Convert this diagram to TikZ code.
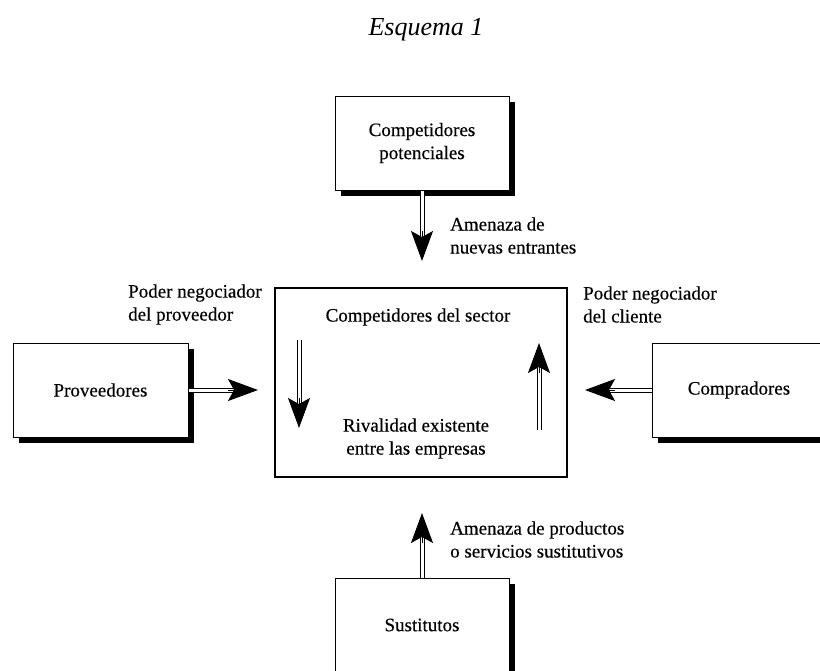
\documentclass[tikz,border=0pt]{standalone}
\usepackage{fontspec}
\setmainfont{Liberation Serif}
\newfontfamily\dfont{Liberation Serif}[FakeBold=0.35]
\usetikzlibrary{arrows.meta,shadows}
\begin{document}
\begin{tikzpicture}[x=1pt,y=-1pt,
 box/.style={draw, fill=white, line width=1pt, inner sep=0pt, font=\dfont\fontsize{19}{23}\selectfont, align=center},
 shbox/.style={box, drop shadow={shadow xshift=6pt, shadow yshift=-6pt, opacity=1, fill=black}},
 dbl/.style={draw, double, double distance=3pt, line width=1pt},
 head/.style={-{Stealth[length=30pt,width=22pt,inset=6pt]}, line width=1pt},
 lbl/.style={font=\dfont\fontsize{19}{23}\selectfont, align=left, anchor=west, inner sep=0pt},
 txt/.style={font=\dfont\fontsize{19}{23}\selectfont, align=center, inner sep=0pt},
]
\useasboundingbox (0,0) rectangle (820,670);
\clip (0,0) rectangle (820,670);
\fill[white] (0,0) rectangle (820,670);

\node[font=\fontsize{26}{30}\selectfont\itshape, inner sep=0pt] (title) at (426,30) {Esquema 1};

% boxes
\node[shbox, minimum width=174pt, minimum height=94pt] (top) at (422,143) {Competidores\\potenciales};
\node[box, line width=1.3pt, minimum width=292pt, minimum height=189pt] (mid) at (421,382.5) {};
\node[shbox, minimum width=175pt, minimum height=94pt] (prov) at (100.5,390) {Proveedores};
\node[shbox, minimum width=174pt, minimum height=94pt] (comp) at (739,390) {Compradores};
\node[shbox, minimum width=174pt, minimum height=94pt] (sust) at (422,625) {Sustitutos};

% texts in the centre box
\node[txt] (sector) at (418,317) {Competidores del sector};
\node[txt] (rival) at (416,438.5) {Rivalidad existente\\entre las empresas};

% labels
\node[lbl] (l1) at (450,235.5) {Amenaza de\\nuevas entrantes};
\node[lbl] (l2) at (128,304.5) {Poder negociador\\del proveedor};
\node[lbl] (l3) at (583,304.5) {Poder negociador\\del cliente};
\node[lbl] (l4) at (450,539.5) {Amenaza de productos\\o servicios sustitutivos};

% top arrow
\coordinate (tTip) at (422,261);
\coordinate (tBase) at (422,231);
\draw[dbl] (top.south) -- ([yshift=-5pt]tBase);
\draw[head] (tBase) -- (tTip);

% left arrow
\coordinate (pTip) at (258,390);
\coordinate (pBase) at (228,390);
\draw[dbl] (prov.east) -- ([xshift=5pt]pBase);
\draw[head] (pBase) -- (pTip);

% right arrow
\coordinate (cTip) at (585,390);
\coordinate (cBase) at (615,390);
\draw[dbl] (comp.west) -- ([xshift=-5pt]cBase);
\draw[head] (cBase) -- (cTip);

% bottom arrow
\coordinate (sTip) at (422,513);
\coordinate (sBase) at (422,543);
\draw[dbl] (sust.north) -- ([yshift=5pt]sBase);
\draw[head] (sBase) -- (sTip);

% internal arrows
\coordinate (iaTop) at (299,340);
\coordinate (iaTip) at (299,428);
\coordinate (iaBase) at (299,398);
\draw[dbl] (iaTop) -- ([yshift=-5pt]iaBase);
\draw[head] (iaBase) -- (iaTip);

\coordinate (ibBot) at (539,430);
\coordinate (ibTip) at (539,343);
\coordinate (ibBase) at (539,373);
\draw[dbl] (ibBot) -- ([yshift=5pt]ibBase);
\draw[head] (ibBase) -- (ibTip);
\end{tikzpicture}
\end{document}
